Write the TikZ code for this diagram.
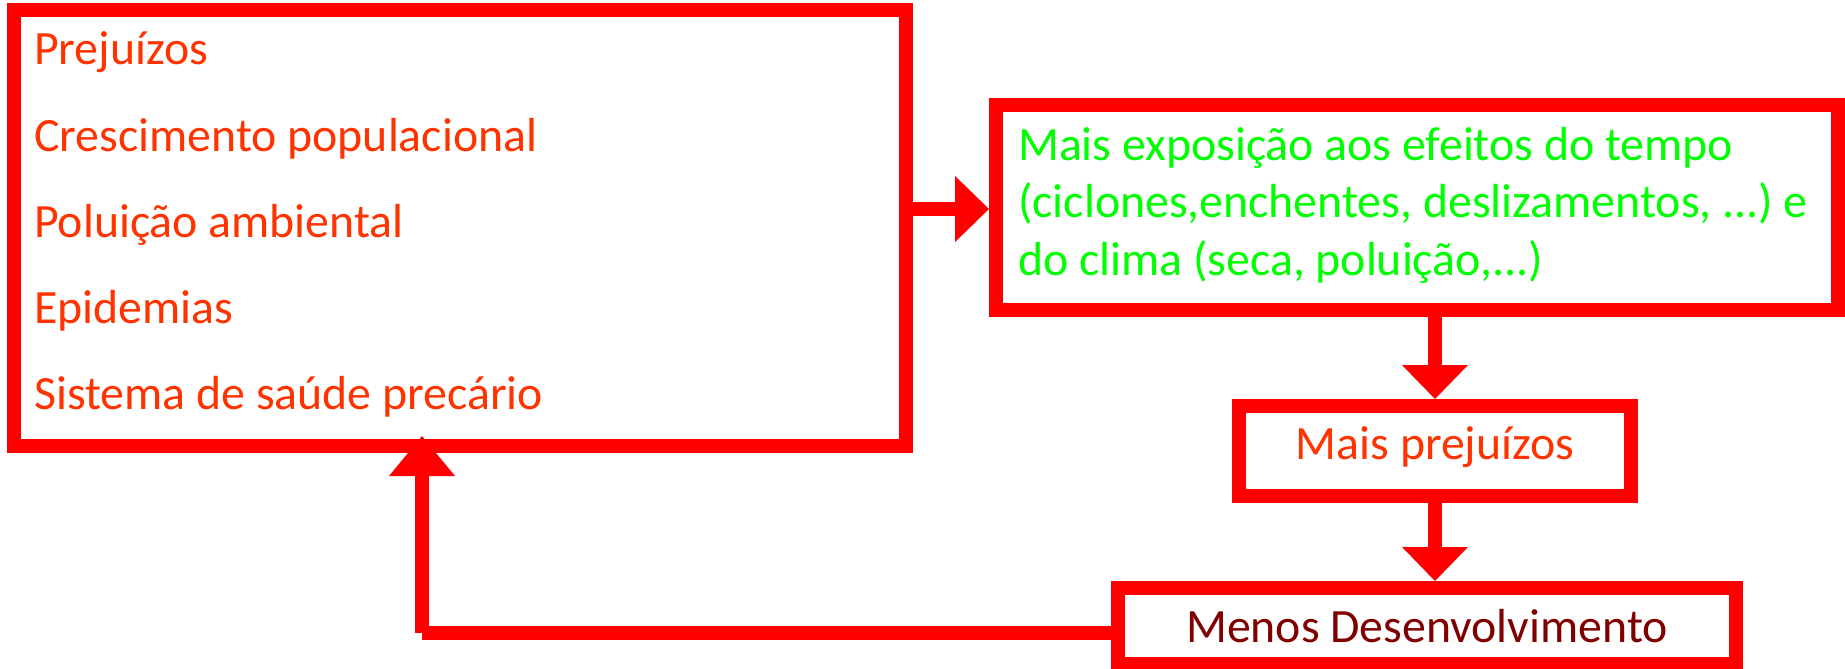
\documentclass[tikz,border=0pt]{standalone}
\usepackage{fontspec}
\setmainfont{Carlito}
\usetikzlibrary{arrows.meta,calc}
\definecolor{boxred}{RGB}{255,0,0}
\definecolor{txtorange}{RGB}{255,51,0}
\definecolor{txtgreen}{RGB}{0,255,0}
\definecolor{txtmaroon}{RGB}{128,0,0}
\frenchspacing
\begin{document}
\begin{tikzpicture}[x=1pt,y=-1pt,
  box/.style={draw=boxred, line width=14pt, rectangle, inner sep=0pt, outer sep=7pt},
  conn/.style={draw=boxred, line width=14pt},
  tipd/.style={-{Triangle[length=34pt,width=66pt,line width=0pt]}},
  tipu/.style={-{Triangle[length=40pt,width=66pt,line width=0pt]}},
  bigfont/.style={font=\fontsize{47.8}{57}\selectfont},
  lbl/.style={anchor=base west, inner sep=0pt, bigfont},
  glbl/.style={anchor=base west, inner sep=0pt, text=txtgreen, bigfont}
]
\useasboundingbox (0,0) rectangle (1845,669);

% boxes
\node[box, minimum width=892pt, minimum height=436pt] (b1) at (460,228) {};
\node[box, minimum width=842pt, minimum height=205pt] (b2) at (1417,207.5) {};
\node[box, minimum width=392pt, minimum height=89.5pt, text=txtorange,
      text height=30pt, text depth=13.5pt, bigfont] (b3) at (1435,450.75) {Mais prejuízos};
\node[box, minimum width=618pt, minimum height=76pt, text=txtmaroon,
      text height=34pt, text depth=2pt, bigfont] (b4) at (1427,626) {Menos Desenvolvimento};

% texts of box 1
\node[lbl, text=txtorange] (l1) at (34,65) {Prejuízos};
\node[lbl, text=txtorange] (l2) at (34,151) {Crescimento populacional};
\node[lbl, text=txtorange] (l3) at (34,237) {Poluição ambiental};
\node[lbl, text=txtorange] (l4) at (34,323) {Epidemias};
\node[lbl, text=txtorange] (l5) at (34,409) {Sistema de saúde precário};

% texts of box 2
\node[glbl] (g1) at (1018,160) {Mais exposição aos efeitos do tempo};
\node[glbl] (g2) at (1018,217) {(ciclones,enchentes, deslizamentos, ...) e};
\node[glbl] (g3) at (1018,275) {do clima (seca, poluição,...)};

% connectors
\coordinate (r) at (950,209);
\draw[conn, tipd] (b1.east |- r) -- (b2.west |- r);
\draw[conn, tipd] (b3.north |- b2.south) -- (b3.north);
\draw[conn, tipd] (b3.south) -- (b3.south |- b4.north);
\coordinate (c) at (422,632.5);
\draw[conn] (b4.west |- c) -- (c);
\draw[conn, tipu] (c) -- ($(c |- b1.south)+(0,-17)$);
\end{tikzpicture}
\end{document}
